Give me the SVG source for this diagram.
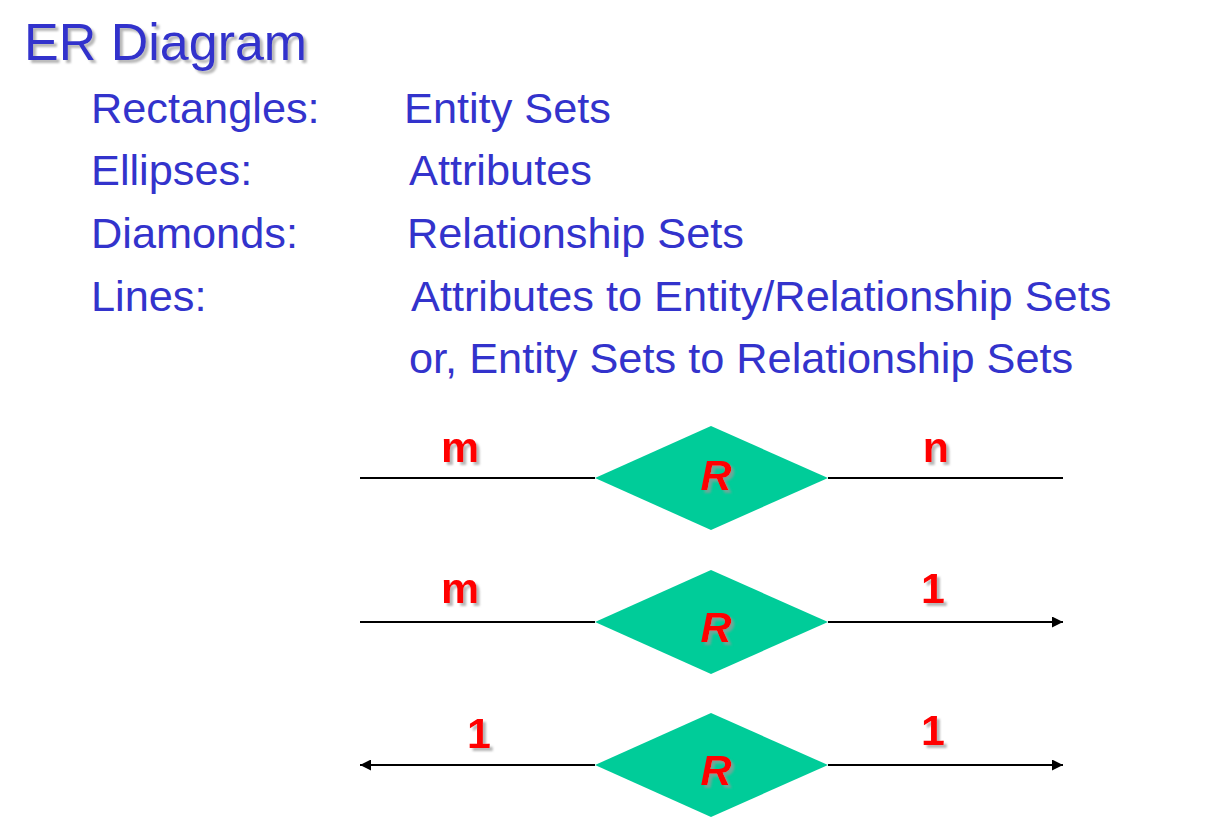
<svg xmlns="http://www.w3.org/2000/svg" width="1219" height="834" viewBox="0 0 1219 834">
<style>
.title{font-family:"Liberation Sans",Arial,sans-serif;font-size:52px;fill:#3333CC;}
.body{font-family:"Liberation Sans",Arial,sans-serif;font-size:43.3px;fill:#3333CC;}
.lbl{font-family:"Liberation Sans",Arial,sans-serif;font-size:43px;font-weight:bold;fill:#FF0000;text-anchor:middle;}
.rel{font-family:"Liberation Sans",Arial,sans-serif;font-size:43px;font-weight:bold;font-style:italic;fill:#FF0000;text-anchor:middle;}
.dia{fill:#00CC99;}
.ln{stroke:#000;stroke-width:2;fill:none;}
</style>
<defs>
<filter id="sh" x="-10%" y="-10%" width="130%" height="140%">
<feDropShadow dx="3" dy="3" stdDeviation="1" flood-color="#999" flood-opacity="0.7"/>
</filter>
<marker id="arr" viewBox="0 0 10 10" refX="10" refY="5" markerWidth="5.5" markerHeight="5.5" orient="auto-start-reverse" markerUnits="strokeWidth">
<path d="M0,0 L10,5 L0,10 Z" fill="#000"/>
</marker>
</defs>
<text class="title" x="24" y="60" filter="url(#sh)">ER Diagram</text>
<g id="legend">
<text class="body" x="91" y="123">Rectangles:</text>
<text class="body" x="404" y="123">Entity Sets</text>
<text class="body" x="91" y="185">Ellipses:</text>
<text class="body" x="409" y="185">Attributes</text>
<text class="body" x="91" y="248">Diamonds:</text>
<text class="body" x="407" y="248">Relationship Sets</text>
<text class="body" x="91" y="311">Lines:</text>
<text class="body" x="411" y="311">Attributes to Entity/Relationship Sets</text>
<text class="body" x="409" y="373">or, Entity Sets to Relationship Sets</text>
</g>
<g id="connectors">
<line class="ln" x1="360" y1="478" x2="595" y2="478"/>
<line class="ln" x1="828" y1="478" x2="1063" y2="478"/>
<line class="ln" x1="360" y1="622" x2="595" y2="622"/>
<line class="ln" x1="828" y1="622" x2="1063" y2="622" marker-end="url(#arr)"/>
<line class="ln" x1="360" y1="765" x2="595" y2="765" marker-start="url(#arr)"/>
<line class="ln" x1="828" y1="765" x2="1063" y2="765" marker-end="url(#arr)"/>
</g>
<g id="rel1">
<polygon class="dia" points="595,478 711,426 828,478 711,530"/>
<text class="rel" x="716" y="490" filter="url(#sh)">R</text>
</g>
<g id="rel2">
<polygon class="dia" points="595,622 711,570 828,622 711,674"/>
<text class="rel" x="716" y="642" filter="url(#sh)">R</text>
</g>
<g id="rel3">
<polygon class="dia" points="595,765 711,713 828,765 711,817"/>
<text class="rel" x="716" y="785" filter="url(#sh)">R</text>
</g>
<g id="labels">
<text class="lbl" x="460" y="462" filter="url(#sh)">m</text>
<text class="lbl" x="936" y="462" filter="url(#sh)">n</text>
<text class="lbl" x="460" y="603" filter="url(#sh)">m</text>
<text class="lbl" x="933" y="603" filter="url(#sh)">1</text>
<text class="lbl" x="479" y="748" filter="url(#sh)">1</text>
<text class="lbl" x="933" y="745" filter="url(#sh)">1</text>
</g>
</svg>
